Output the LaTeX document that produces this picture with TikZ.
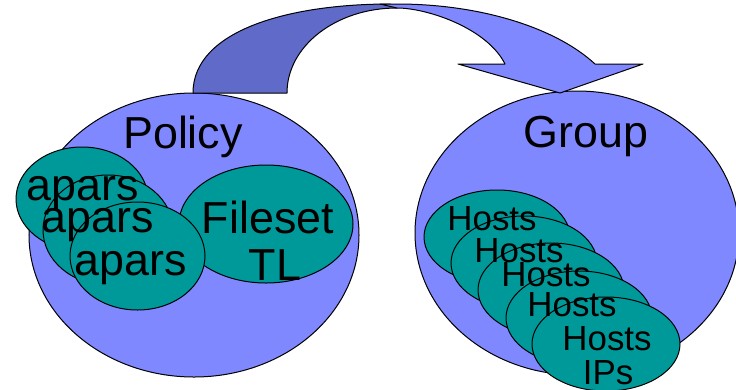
\documentclass[tikz,border=0pt]{standalone}
\usepackage{fontspec}
\setmainfont{Liberation Sans}
\definecolor{bigblue}{RGB}{128,136,255}
\definecolor{darkband}{RGB}{96,106,200}
\definecolor{tealfill}{RGB}{0,153,153}
\begin{document}
\begin{tikzpicture}[x=1bp,y=-1bp, line width=1bp, line join=round,
  big/.style={fill=bigblue,draw=black},
  innerell/.style={fill=tealfill,draw=black},
  bigtext/.style={font=\fontsize{45}{47}\selectfont, inner sep=0pt, anchor=base},
  hosttext/.style={font=\fontsize{35}{35}\selectfont, inner sep=0pt, anchor=base}]
\useasboundingbox (0,0) rectangle (736,389);

% big containers
\path[big] (194,235) ellipse [x radius=165bp, y radius=142bp];
\path[big] (577,233) ellipse [x radius=162bp, y radius=142bp];

% curved arrow
\path[draw=black, fill=darkband] (193,93) .. controls (193,30) and (290,4) .. (390,4)
  -- (397,8) .. controls (336,8) and (287,46) .. (287,93) -- cycle;
\path[draw=black, fill=bigblue] (380,4) -- (397,4) .. controls (479,4) and (555,27) .. (595,64)
  -- (643,64) -- (560,93) -- (458,64) -- (505,64)
  .. controls (487,28) and (427,8) .. (397,8) -- cycle;

% policy contents
\path[innerell] (266,224) ellipse [x radius=87bp, y radius=59bp];
\path[innerell] (82,199) ellipse [x radius=66bp, y radius=52bp];
\path[innerell] (108,230) ellipse [x radius=65bp, y radius=55bp];
\path[innerell] (137.5,256) ellipse [x radius=67.5bp, y radius=54bp];

% group contents
\path[innerell] (497,237) ellipse [x radius=73bp, y radius=47bp];
\path[innerell] (524,263) ellipse [x radius=73bp, y radius=47bp];
\path[innerell] (551,290) ellipse [x radius=73bp, y radius=47bp];
\path[innerell] (579,318) ellipse [x radius=73bp, y radius=47bp];
\path[innerell] (606,344) ellipse [x radius=74bp, y radius=47bp];

% texts
\node[bigtext] (policy) at (183,148) {Policy};
\node[bigtext] (group) at (586,147) {Group};
\node[bigtext] (fileset) at (268,233) {Fileset};
\node[bigtext] (tl) at (275,280) {TL};
\node[bigtext] (apars1) at (82.5,200) {apars};
\node[bigtext] (apars2) at (97.5,232) {apars};
\node[bigtext] (apars3) at (131,275) {apars};
\node[hosttext] (hosts1) at (492,230) {Hosts};
\node[hosttext] (hosts2) at (519,262) {Hosts};
\node[hosttext] (hosts3) at (546,286) {Hosts};
\node[hosttext] (hosts4) at (572,316) {Hosts};
\node[hosttext] (hosts5) at (607,350) {Hosts};
\node[hosttext] (ips) at (608,384) {IPs};
\end{tikzpicture}
\end{document}
